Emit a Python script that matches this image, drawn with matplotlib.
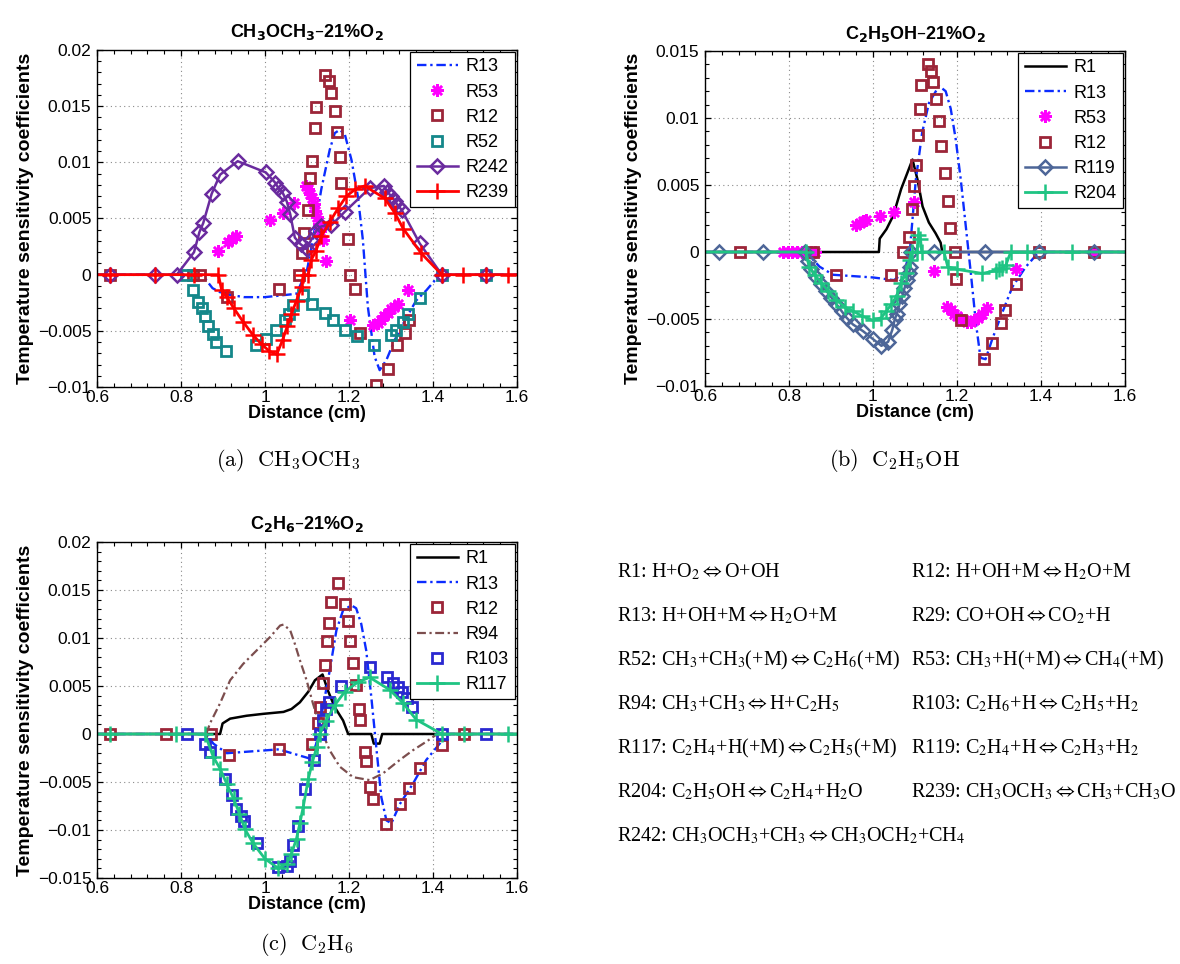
import matplotlib
matplotlib.use('Agg')
import matplotlib.pyplot as plt
from matplotlib.ticker import AutoMinorLocator, FixedLocator, FixedFormatter

plt.rcParams['font.family'] = ['Liberation Sans', 'DejaVu Sans']
plt.rcParams['axes.linewidth'] = 1.0

# ---- CH3OCH3 - 21% O2 ----
a_r13_x = [0.60, 0.85, 0.875, 0.90, 0.95, 1.00, 1.05, 1.075, 1.10, 1.114, 1.134, 1.154, 1.166, 1.178,
           1.19, 1.206, 1.221, 1.233, 1.245, 1.261, 1.273, 1.289, 1.309, 1.337, 1.36, 1.384, 1.416, 1.60]
a_r13_y = [0, 0, -0.0012, -0.0017, -0.0020, -0.0020, -0.0018, -0.0017, 0.0004, 0.0031, 0.0076, 0.0111,
           0.0126, 0.0129, 0.0125, 0.0102, 0.0070, 0.0031, -0.0029, -0.0073, -0.0085, -0.0076, -0.0058,
           -0.0038, -0.0023, -0.0014, 0, 0]
a_r53_x = [0.889, 0.913, 0.921, 0.930, 1.012, 1.044, 1.069, 1.098, 1.103, 1.108, 1.112, 1.116, 1.120,
           1.124, 1.128, 1.132, 1.138, 1.146, 1.202, 1.257, 1.268, 1.276, 1.284, 1.292, 1.300, 1.308,
           1.317, 1.340]
a_r53_y = [0.0021, 0.0029, 0.0032, 0.0034, 0.0049, 0.0055, 0.0064, 0.0079, 0.0076, 0.0072, 0.0068,
           0.0063, 0.0057, 0.0051, 0.0045, 0.0039, 0.0031, 0.0012, -0.0040, -0.0045, -0.0043, -0.0040,
           -0.0037, -0.0034, -0.0031, -0.0029, -0.0026, -0.0014]
a_r12_x = [0.631, 0.829, 0.845, 0.909, 1.033, 1.080, 1.088, 1.094, 1.102, 1.108, 1.111, 1.118, 1.122,
           1.142, 1.152, 1.158, 1.166, 1.171, 1.178, 1.182, 1.198, 1.202, 1.214, 1.226, 1.264, 1.293,
           1.314, 1.333, 1.344]
a_r12_y = [0, 0, 0, -0.0020, -0.0013, 0, 0.0019, 0.0037, 0.0058, 0.0086, 0.0101, 0.0131, 0.0149,
           0.0178, 0.0172, 0.0162, 0.0146, 0.0127, 0.0105, 0.0082, 0.0032, 0, -0.0013, -0.0052,
           -0.0098, -0.0084, -0.0063, -0.0052, -0.0040]
a_r52_x = [0.813, 0.829, 0.841, 0.849, 0.857, 0.865, 0.875, 0.883, 0.907, 0.978, 1.002, 1.027, 1.047,
           1.056, 1.067, 1.090, 1.113, 1.142, 1.162, 1.19, 1.219, 1.259, 1.301, 1.313, 1.329, 1.34,
           1.37, 1.421, 1.527]
a_r52_y = [0, -0.0014, -0.0024, -0.0030, -0.0037, -0.0046, -0.0053, -0.0060, -0.0068, -0.0063,
           -0.0057, -0.0049, -0.0040, -0.0035, -0.0027, -0.0018, -0.0026, -0.0034, -0.0040, -0.0049,
           -0.0055, -0.0063, -0.0054, -0.0049, -0.0042, -0.0035, -0.0021, 0, 0]
a_r242_x = [0.60, 0.631, 0.738, 0.790, 0.831, 0.844, 0.853, 0.873, 0.893, 0.935, 1.002, 1.024, 1.032,
            1.042, 1.052, 1.060, 1.071, 1.085, 1.099, 1.110, 1.122, 1.134, 1.158, 1.190, 1.249, 1.283,
            1.291, 1.300, 1.309, 1.317, 1.325, 1.368, 1.421, 1.527, 1.60]
a_r242_y = [0, 0, 0, 0, 0.0020, 0.0038, 0.0046, 0.0072, 0.0089, 0.0101, 0.0091, 0.0082, 0.0077,
            0.0073, 0.0065, 0.0054, 0.0033, 0.0027, 0.0023, 0.0031, 0.0039, 0.0043, 0.0044, 0.0056,
            0.0077, 0.0079, 0.0074, 0.0070, 0.0066, 0.0061, 0.0058, 0.0028, 0, 0, 0]
a_r239_x = [0.60, 0.631, 0.738, 0.831, 0.889, 0.897, 0.909, 0.926, 0.948, 0.972, 0.992, 1.010, 1.028,
            1.042, 1.053, 1.063, 1.075, 1.087, 1.091, 1.103, 1.110, 1.121, 1.134, 1.154, 1.174, 1.194,
            1.215, 1.237, 1.285, 1.309, 1.329, 1.372, 1.421, 1.471, 1.527, 1.579, 1.60]
a_r239_y = [0, 0, 0, 0, 0, -0.0014, -0.0020, -0.0030, -0.0042, -0.0054, -0.0062, -0.0068, -0.0071,
            -0.0058, -0.0046, -0.0035, -0.0023, -0.0011, 0, 0, 0.0013, 0.0021, 0.0034, 0.0047, 0.0059,
            0.0070, 0.0076, 0.0079, 0.0068, 0.0055, 0.0041, 0.0019, 0, 0, 0, 0, 0]

# ---- C2H5OH - 21% O2 ----
b_r1_x = [0.60, 1.014, 1.016, 1.032, 1.048, 1.067, 1.094, 1.106, 1.118, 1.133, 1.149, 1.161, 1.165, 1.60]
b_r1_y = [0, 0, 0.0010, 0.0017, 0.0027, 0.0047, 0.0069, 0.0054, 0.0034, 0.0022, 0.0014, 0.0007, 0, 0]
b_r13_x = [0.60, 0.84, 0.873, 0.905, 1.0, 1.05, 1.075, 1.088, 1.102, 1.117, 1.133, 1.157, 1.173, 1.185,
           1.197, 1.209, 1.221, 1.233, 1.245, 1.256, 1.268, 1.284, 1.308, 1.332, 1.364, 1.395, 1.60]
b_r13_y = [0, 0, -0.0011, -0.0017, -0.0019, -0.0021, -0.0015, 0.0002, 0.0054, 0.0089, 0.0111, 0.0124,
           0.0120, 0.0107, 0.0084, 0.0054, 0.0019, -0.0016, -0.0053, -0.0079, -0.0080, -0.0065,
           -0.0045, -0.0026, -0.0011, 0, 0]
b_r53_x = [0.786, 0.797, 0.808, 0.819, 0.830, 0.841, 0.852, 0.863, 0.960, 0.968, 0.976, 0.984, 1.017,
           1.049, 1.098, 1.145, 1.177, 1.185, 1.193, 1.201, 1.209, 1.217, 1.225, 1.233, 1.241, 1.250,
           1.260, 1.272, 1.341, 1.526]
b_r53_y = [0, 0, 0, 0, 0, 0, 0, 0, 0.0020, 0.0022, 0.0023, 0.0024, 0.0027, 0.0030, 0.0037, -0.0014,
           -0.0041, -0.0043, -0.0046, -0.0048, -0.0050, -0.0051, -0.0052, -0.0052, -0.0051, -0.0049,
           -0.0046, -0.0042, -0.0013, 0]
b_r12_x = [0.684, 0.857, 0.913, 1.044, 1.071, 1.085, 1.093, 1.098, 1.103, 1.107, 1.111, 1.115, 1.132,
           1.137, 1.143, 1.151, 1.157, 1.163, 1.171, 1.178, 1.183, 1.195, 1.198, 1.209, 1.264, 1.284,
           1.304, 1.314, 1.340, 1.395, 1.526]
b_r12_y = [0, 0, -0.0017, -0.0017, 0, 0.0011, 0.0032, 0.0049, 0.0065, 0.0087, 0.0107, 0.0125, 0.0140,
           0.0135, 0.0127, 0.0114, 0.0098, 0.0079, 0.0059, 0.0038, 0.0018, 0, -0.0020, -0.0051,
           -0.0080, -0.0068, -0.0053, -0.0043, -0.0024, 0, 0]
b_r119_x = [0.60, 0.633, 0.738, 0.838, 0.845, 0.853, 0.865, 0.877, 0.889, 0.901, 0.913, 0.925, 0.937,
            0.952, 0.976, 1.000, 1.020, 1.036, 1.046, 1.052, 1.057, 1.063, 1.070, 1.075, 1.081, 1.086,
            1.089, 1.091, 1.145, 1.267, 1.395, 1.526, 1.60]
b_r119_y = [0, 0, 0, 0, -0.0007, -0.0013, -0.0019, -0.0024, -0.0029, -0.0034, -0.0039, -0.0044,
            -0.0049, -0.0054, -0.0059, -0.0065, -0.0070, -0.0067, -0.0058, -0.0050, -0.0046, -0.0039,
            -0.0033, -0.0027, -0.0021, -0.0016, -0.0011, 0, 0, 0, 0, 0, 0]
b_r204_x = [0.60, 0.840, 0.848, 0.861, 0.877, 0.893, 0.913, 0.933, 0.952, 0.975, 1.000, 1.020, 1.032,
            1.044, 1.056, 1.067, 1.078, 1.087, 1.093, 1.105, 1.108, 1.113, 1.116, 1.169, 1.178, 1.201,
            1.260, 1.292, 1.300, 1.308, 1.316, 1.328, 1.367, 1.474, 1.60]
b_r204_y = [0, 0, -0.0011, -0.0017, -0.0023, -0.0029, -0.0036, -0.0041, -0.0044, -0.0048, -0.0051,
            -0.0049, -0.0044, -0.0039, -0.0033, -0.0023, -0.0016, -0.0006, 0, 0, 0.0013, 0.0010, 0,
            0, -0.0011, -0.0013, -0.0016, -0.0014, -0.0013, -0.0012, -0.0010, 0, 0, 0, 0]

# ---- C2H6 - 21% O2 ----
c_r1_x = [0.60, 0.893, 0.899, 0.917, 0.956, 0.996, 1.044, 1.063, 1.083, 1.103, 1.119, 1.137, 1.150,
          1.166, 1.186, 1.198, 1.253, 1.259, 1.273, 1.279, 1.60]
c_r1_y = [0, 0, 0.0011, 0.0016, 0.0019, 0.0021, 0.0023, 0.0026, 0.0033, 0.0044, 0.0056, 0.0062,
          0.0045, 0.0028, 0.0014, 0, 0, -0.0010, -0.0010, 0, 0]
c_r13_x = [0.60, 0.86, 0.877, 0.909, 1.033, 1.110, 1.122, 1.138, 1.154, 1.170, 1.186, 1.206, 1.217,
           1.229, 1.241, 1.253, 1.265, 1.277, 1.289, 1.301, 1.321, 1.352, 1.384, 1.416, 1.432, 1.60]
c_r13_y = [0, 0, -0.0010, -0.0020, -0.0016, -0.0026, -0.0010, 0.0028, 0.0066, 0.0108, 0.0129, 0.0134,
           0.0131, 0.0115, 0.0087, 0.0039, -0.0014, -0.0066, -0.0090, -0.0093, -0.0073, -0.0052,
           -0.0027, -0.0010, 0, 0]
c_r12_x = [0.631, 0.764, 0.871, 0.915, 1.033, 1.111, 1.126, 1.130, 1.138, 1.144, 1.148, 1.152, 1.156,
           1.174, 1.190, 1.198, 1.202, 1.210, 1.216, 1.223, 1.226, 1.237, 1.241, 1.249, 1.257, 1.287,
           1.322, 1.343, 1.368, 1.422, 1.474]
c_r12_y = [0, 0, 0, -0.0022, -0.0016, -0.0010, 0.0011, 0.0028, 0.0053, 0.0072, 0.0097, 0.0116, 0.0138,
           0.0157, 0.0135, 0.0118, 0.0097, 0.0074, 0.0051, 0.0026, 0.0015, -0.0019, -0.0028, -0.0055,
           -0.0068, -0.0094, -0.0073, -0.0056, -0.0035, -0.0011, 0]
c_r94_x = [0.60, 0.86, 0.869, 0.893, 0.917, 0.948, 0.980, 1.012, 1.036, 1.044, 1.060, 1.071, 1.083,
           1.099, 1.114, 1.134, 1.154, 1.178, 1.210, 1.249, 1.281, 1.321, 1.352, 1.384, 1.410, 1.60]
c_r94_y = [0, 0, 0.0011, 0.0032, 0.0056, 0.0073, 0.0087, 0.0101, 0.0113, 0.0114, 0.0108, 0.0094,
           0.0077, 0.0056, 0.0032, 0.0004, -0.0017, -0.0034, -0.0045, -0.0048, -0.0041, -0.0027,
           -0.0017, -0.0008, 0, 0]
c_r103_x = [0.815, 0.857, 0.869, 0.905, 0.921, 0.932, 0.944, 0.950, 0.982, 1.031, 1.052, 1.060, 1.066,
            1.079, 1.095, 1.116, 1.132, 1.139, 1.146, 1.152, 1.180, 1.249, 1.290, 1.305, 1.317, 1.327,
            1.337, 1.351, 1.421, 1.527]
c_r103_y = [0, -0.0010, -0.0019, -0.0047, -0.0064, -0.0078, -0.0085, -0.0091, -0.0114, -0.0139,
            -0.0137, -0.0132, -0.0116, -0.0096, -0.0057, -0.0027, 0, 0.0015, 0.0026, 0.0033, 0.0050,
            0.0070, 0.0059, 0.0053, 0.0049, 0.0044, 0.0037, 0.0028, 0, 0]
c_r117_x = [0.60, 0.631, 0.788, 0.857, 0.877, 0.893, 0.909, 0.925, 0.939, 0.952, 0.972, 1.000, 1.032,
            1.052, 1.063, 1.075, 1.083, 1.091, 1.103, 1.113, 1.123, 1.130, 1.146, 1.166, 1.190, 1.221,
            1.249, 1.297, 1.329, 1.360, 1.421, 1.473, 1.579, 1.60]
c_r117_y = [0, 0, 0, 0, -0.0024, -0.0036, -0.0052, -0.0067, -0.0083, -0.0099, -0.0114, -0.0130,
            -0.0140, -0.0135, -0.0125, -0.0109, -0.0093, -0.0076, -0.0047, -0.0029, -0.0014, 0, 0.0014,
            0.0030, 0.0044, 0.0054, 0.0059, 0.0046, 0.0032, 0.0015, 0, 0, 0, 0]

x_ticks = [0.6, 0.8, 1.0, 1.2, 1.4, 1.6]
a_yticks = [-0.01, -0.005, 0, 0.005, 0.01, 0.015, 0.02]
b_yticks = [-0.01, -0.005, 0, 0.005, 0.01, 0.015]
c_yticks = [-0.015, -0.01, -0.005, 0, 0.005, 0.01, 0.015, 0.02]

titles = ['CH$_\\mathbf{3}$OCH$_\\mathbf{3}$\u201321%O$_\\mathbf{2}$',
          'C$_\\mathbf{2}$H$_\\mathbf{5}$OH\u201321%O$_\\mathbf{2}$',
          'C$_\\mathbf{2}$H$_\\mathbf{6}$\u201321%O$_\\mathbf{2}$']
captions = [r'$\mathrm{(a)\ \ CH_3OCH_3}$', r'$\mathrm{(b)\ \ C_2H_5OH}$', r'$\mathrm{(c)\ \ C_2H_6}$']

ARROW = r'$\Leftrightarrow$'
reactions_left = ['R1: H+O$_2$' + ARROW + 'O+OH',
                  'R13: H+OH+M' + ARROW + 'H$_2$O+M',
                  'R52: CH$_3$+CH$_3$(+M)' + ARROW + 'C$_2$H$_6$(+M)',
                  'R94: CH$_3$+CH$_3$' + ARROW + 'H+C$_2$H$_5$',
                  'R117: C$_2$H$_4$+H(+M)' + ARROW + 'C$_2$H$_5$(+M)',
                  'R204: C$_2$H$_5$OH' + ARROW + 'C$_2$H$_4$+H$_2$O',
                  'R242: CH$_3$OCH$_3$+CH$_3$' + ARROW + 'CH$_3$OCH$_2$+CH$_4$']
reactions_right = ['R12: H+OH+M' + ARROW + 'H$_2$O+M',
                   'R29: CO+OH' + ARROW + 'CO$_2$+H',
                   'R53: CH$_3$+H(+M)' + ARROW + 'CH$_4$(+M)',
                   'R103: C$_2$H$_6$+H' + ARROW + 'C$_2$H$_5$+H$_2$',
                   'R119: C$_2$H$_4$+H' + ARROW + 'C$_2$H$_3$+H$_2$',
                   'R239: CH$_3$OCH$_3$' + ARROW + 'CH$_3$+CH$_3$O']

DASHDOT = (0, (4, 1.6, 1, 1.6))
C_R12 = '#9c2538'
C_R52 = '#14878a'
C_R242 = '#6a2b9e'
C_R239 = '#ff0000'
C_R53 = '#ff00ff'
C_R13 = '#0b2cff'
C_R119 = '#4d6698'
C_GREEN = '#1fc483'
C_R94 = '#7c4e4e'
C_R103 = '#2a28d0'
inner = slice(1, -1)


def fmt(v):
    s = '%g' % v
    return s.replace('-', '\u2212')


def style_axes(ax, yticks, title):
    ax.set_xlim(0.6, 1.6)
    ax.set_ylim(yticks[0], yticks[-1])
    ax.xaxis.set_major_locator(FixedLocator(x_ticks))
    ax.xaxis.set_major_formatter(FixedFormatter([fmt(v) for v in x_ticks]))
    ax.yaxis.set_major_locator(FixedLocator(yticks))
    ax.yaxis.set_major_formatter(FixedFormatter([fmt(v) for v in yticks]))
    ax.xaxis.set_minor_locator(AutoMinorLocator(5))
    ax.yaxis.set_minor_locator(AutoMinorLocator(5))
    ax.tick_params(which='both', direction='in', top=True, right=True, labelsize=12.5)
    ax.tick_params(axis='x', pad=2)
    ax.tick_params(axis='y', pad=4)
    ax.tick_params(which='major', length=4.5, width=0.9)
    ax.tick_params(which='minor', length=3, width=0.8)
    ax.grid(True, which='major', color='#8a8a8a', linestyle=(0, (1, 3)), linewidth=0.8)
    ax.set_axisbelow(True)
    ax.set_xlabel('Distance (cm)', fontsize=13, fontweight='bold', labelpad=0)
    ax.set_ylabel('Temperature sensitivity coefficients', fontsize=14, fontweight='bold', labelpad=3)
    ax.set_title(title, fontsize=13, fontweight='bold', pad=9, math_fontfamily='dejavusans')
    for sp in ax.spines.values():
        sp.set_color('black')


def add_legend(ax):
    ax.legend(loc='upper right', fontsize=13, numpoints=1, handlelength=2.3, handletextpad=0.4,
              labelspacing=0.45, borderpad=0.35, borderaxespad=0.12, fancybox=False,
              edgecolor='black', framealpha=1).get_frame().set_linewidth(0.9)


fig = plt.figure(figsize=(11.8, 9.64), dpi=100)
fig.patch.set_facecolor('white')

sq = dict(marker='s', linestyle='none', markersize=6.5, markerfacecolor='none', markeredgewidth=2)
star = dict(marker=(8, 2, 0), linestyle='none', markersize=9, markeredgewidth=1.8)

# (a)
ax = fig.add_axes([97 / 1180, 1 - 387 / 964, 420 / 1180, 337 / 964])
ax.plot(a_r13_x, a_r13_y, color=C_R13, linestyle=DASHDOT, linewidth=1.7, label='R13')
ax.plot(a_r53_x, a_r53_y, color=C_R53, label='R53', **star)
ax.plot(a_r12_x, a_r12_y, color=C_R12, label='R12', **sq)
ax.plot(a_r52_x, a_r52_y, color=C_R52, label='R52', **sq)
ax.plot(a_r242_x, a_r242_y, color=C_R242, linewidth=1.8, marker='D', markersize=7.5,
        markerfacecolor='none', markeredgewidth=1.8, markevery=inner, label='R242')
ax.plot(a_r239_x, a_r239_y, color=C_R239, linewidth=2, marker='+', markersize=11,
        markeredgewidth=1.8, markevery=inner, label='R239')
style_axes(ax, a_yticks, titles[0])
add_legend(ax)

# (b)
ax = fig.add_axes([705 / 1180, 1 - 386 / 964, 420 / 1180, 335 / 964])
ax.plot(b_r1_x, b_r1_y, color='black', linewidth=1.8, label='R1')
ax.plot(b_r13_x, b_r13_y, color=C_R13, linestyle=DASHDOT, linewidth=1.7, label='R13')
ax.plot(b_r53_x, b_r53_y, color=C_R53, label='R53', **star)
ax.plot(b_r12_x, b_r12_y, color=C_R12, label='R12', **sq)
ax.plot(b_r119_x, b_r119_y, color=C_R119, linewidth=1.8, marker='D', markersize=7.5,
        markerfacecolor='none', markeredgewidth=1.8, markevery=inner, label='R119')
ax.plot(b_r204_x, b_r204_y, color=C_GREEN, linewidth=2, marker='+', markersize=11,
        markeredgewidth=1.8, markevery=inner, label='R204')
style_axes(ax, b_yticks, titles[1])
add_legend(ax)

# (c)
ax = fig.add_axes([97 / 1180, 1 - 878 / 964, 420 / 1180, 336 / 964])
ax.plot(c_r1_x, c_r1_y, color='black', linewidth=1.8, label='R1')
ax.plot(c_r13_x, c_r13_y, color=C_R13, linestyle=DASHDOT, linewidth=1.7, label='R13')
ax.plot(c_r12_x, c_r12_y, color=C_R12, label='R12', **sq)
ax.plot(c_r94_x, c_r94_y, color=C_R94, linestyle=DASHDOT, linewidth=1.6, label='R94')
ax.plot(c_r103_x, c_r103_y, color=C_R103, label='R103', **sq)
ax.plot(c_r117_x, c_r117_y, color=C_GREEN, linewidth=2, marker='+', markersize=11,
        markeredgewidth=1.8, markevery=inner, label='R117')
style_axes(ax, c_yticks, titles[2])
add_legend(ax)

# sub-figure captions
for (cx, cy), cap in zip([(288, 460), (895, 460), (307, 945)], captions):
    fig.text(cx / 1180, 1 - cy / 964, cap, ha='center', va='center', fontsize=16,
             math_fontfamily='cm')

# reaction list
for i, (left, right) in enumerate(zip(reactions_left, reactions_right + [''])):
    y = 1 - (572 + 44 * i) / 964
    fig.text(617 / 1180, y, left, ha='left', va='center', fontsize=14.5,
             family=['Liberation Serif', 'DejaVu Serif'], math_fontfamily='stix')
    if right:
        fig.text(911 / 1180, y, right, ha='left', va='center', fontsize=14.5,
                 family=['Liberation Serif', 'DejaVu Serif'], math_fontfamily='stix')

fig.savefig('out.png', dpi=100, facecolor='white')
